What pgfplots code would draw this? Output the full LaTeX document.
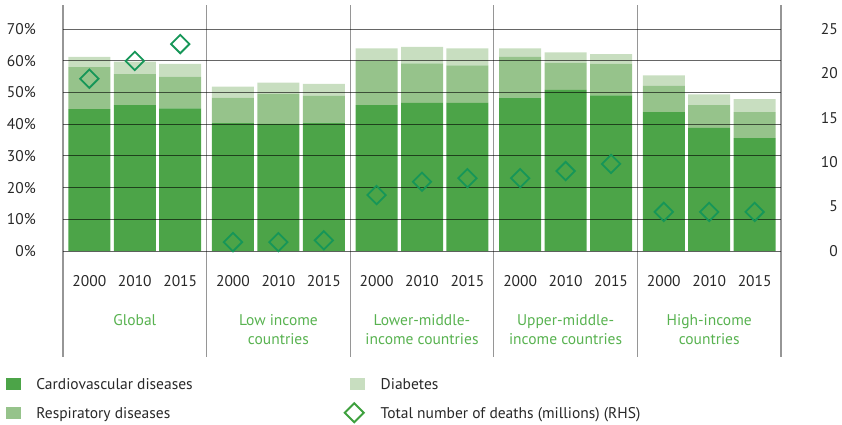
\documentclass[border=0pt]{standalone}
\usepackage{fontspec}
\setmainfont{PT Sans}
\usepackage{pgfplots}
\pgfplotsset{compat=1.18}
\usepackage{pgfplotstable}
\definecolor{cardio}{RGB}{76,164,72}
\definecolor{resp}{RGB}{150,195,139}
\definecolor{diab}{RGB}{200,222,192}
\definecolor{dmd}{RGB}{22,150,88}
\definecolor{dmdleg}{RGB}{62,160,62}
\definecolor{catgreen}{RGB}{88,178,80}
\definecolor{sepgray}{RGB}{150,150,150}
\definecolor{txt}{RGB}{40,40,40}

\pgfplotstableread{
x cardio resp diab total
-1 44.7 13.3 3.2 19.4
0 46.0 9.8 3.9 21.4
1 45.0 10.0 4.0 23.3
2.16 40.3 8.1 3.4 1.0
3.16 40.1 9.5 3.5 1.0
4.16 40.5 8.4 3.8 1.2
5.32 46.0 14.0 3.9 6.3
6.32 46.7 12.5 5.2 7.8
7.32 46.7 11.8 5.4 8.2
8.48 48.4 12.8 2.7 8.2
9.48 50.8 8.5 3.3 9.0
10.48 49.1 10.0 3.0 9.8
11.64 43.8 8.3 3.3 4.4
12.64 38.8 7.2 3.4 4.4
13.64 35.6 8.2 4.1 4.4
}\data

\begin{document}
\fontsize{15.5bp}{19bp}\selectfont
\begin{tikzpicture}
\path[use as bounding box] (-63bp,-174bp) rectangle (779bp,251bp);
\begin{axis}[
  at={(0,0)}, anchor=south west,
  scale only axis, width=718bp, height=246bp,
  xmin=-1.58, xmax=14.22, ymin=0, ymax=77.57,
  ybar stacked, bar width=42bp,
  clip=false, axis on top,
  axis line style={draw=none},
  major tick length=0pt,
  ytick={0,10,...,70},
  yticklabel={\pgfmathprintnumber{\tick}\%},
  yticklabel style={anchor=east, inner sep=0pt, xshift=-27bp, text=txt},
  xtick={-1,0,1,2.16,3.16,4.16,5.32,6.32,7.32,8.48,9.48,10.48,11.64,12.64,13.64},
  xticklabels={2000,2010,2015,2000,2010,2015,2000,2010,2015,2000,2010,2015,2000,2010,2015},
  xticklabel style={anchor=center, inner sep=0pt, yshift=-30bp, text=txt},
  /pgf/number format/assume math mode=true,
  ymajorgrids, major grid style={black, opacity=0.6, line width=0.9bp},
  legend columns=2, legend cell align=left,
  legend style={draw=none, fill=none, at={(rel axis cs:0,0)}, anchor=north west,
    xshift=-57bp, yshift=-126.5bp, inner sep=0pt, outer sep=0pt, row sep=10bp,
    nodes={inner sep=0pt, text height=11bp, text depth=3bp, text=txt},
    /tikz/every odd column/.append style={column sep=16bp},
    /tikz/every even column/.append style={column sep=151bp}},
]
\addplot[fill=cardio, draw=none, forget plot] table[x=x, y=cardio] {\data};
\addplot[fill=resp, draw=none, forget plot] table[x=x, y=resp] {\data};
\addplot[fill=diab, draw=none, forget plot] table[x=x, y=diab] {\data};
\addlegendimage{legend image code/.code={\fill[cardio] (0bp,-3.5bp) rectangle (14bp,7.5bp);}}
\addlegendentry{Cardiovascular diseases}
\addlegendimage{legend image code/.code={\fill[diab] (0bp,-3.5bp) rectangle (14bp,7.5bp);}}
\addlegendentry{Diabetes}
\addlegendimage{legend image code/.code={\fill[resp] (0bp,-3.5bp) rectangle (14bp,7.5bp);}}
\addlegendentry{Respiratory diseases}
\addlegendimage{legend image code/.code={\draw[dmdleg, line width=2bp] (-5bp,2bp) -- (4.5bp,-7.5bp) -- (14bp,2bp) -- (4.5bp,11.5bp) -- cycle;}}
\addlegendentry{Total number of deaths (millions) (RHS)}
\foreach \xs in {-1.58,1.58,4.74,7.90,11.06,14.22} {
  \edef\temp{\noexpand\draw[sepgray, line width=1.1bp] (axis cs:\xs,77.57) -- ([yshift=-106bp]axis cs:\xs,0);}
  \temp
}
\node[anchor=north, align=center, inner sep=0pt, text=catgreen] at ([yshift=-63bp]axis cs:0,0) {Global};
\node[anchor=north, align=center, inner sep=0pt, text=catgreen] at ([yshift=-63bp]axis cs:3.16,0) {Low income\\countries};
\node[anchor=north, align=center, inner sep=0pt, text=catgreen] at ([yshift=-63bp]axis cs:6.32,0) {Lower-middle-\\income countries};
\node[anchor=north, align=center, inner sep=0pt, text=catgreen] at ([yshift=-63bp]axis cs:9.48,0) {Upper-middle-\\income countries};
\node[anchor=north, align=center, inner sep=0pt, text=catgreen] at ([yshift=-63bp]axis cs:12.64,0) {High-income\\countries};
\end{axis}
\begin{axis}[
  at={(0,0)}, anchor=south west,
  scale only axis, width=718bp, height=246bp,
  xmin=-1.58, xmax=14.22, ymin=0, ymax=27.70,
  clip=false,
  axis y line*=right, axis x line=none,
  axis line style={draw=none},
  major tick length=0pt,
  ytick={0,5,...,25},
  yticklabel style={anchor=east, inner sep=0pt, xshift=57bp, text=txt},
  /pgf/number format/assume math mode=true,
]
\addplot[only marks, mark=square, mark size=6.5bp,
  mark options={rotate=45, draw=dmd, line width=1.8bp, fill=none}]
  table[x=x, y=total] {\data};
\end{axis}
\end{tikzpicture}
\end{document}
